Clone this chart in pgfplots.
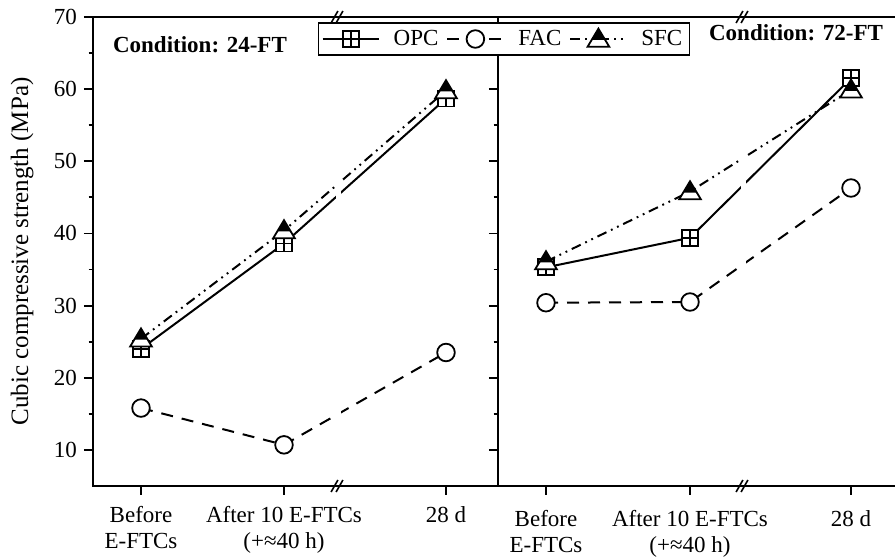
\documentclass[border=0pt]{standalone}
\usepackage{fontspec}
\setmainfont{Liberation Serif}
\usepackage{pgfplots}
\pgfplotsset{compat=1.18}

% square with a plus inside
\pgfdeclareplotmark{sqplus}{%
  \pgfpathrectangle{\pgfqpoint{-\pgfplotmarksize}{-\pgfplotmarksize}}{\pgfqpoint{2\pgfplotmarksize}{2\pgfplotmarksize}}%
  \pgfusepathqfillstroke
  \pgfpathmoveto{\pgfqpoint{-\pgfplotmarksize}{0pt}}\pgfpathlineto{\pgfqpoint{\pgfplotmarksize}{0pt}}%
  \pgfpathmoveto{\pgfqpoint{0pt}{-\pgfplotmarksize}}\pgfpathlineto{\pgfqpoint{0pt}{\pgfplotmarksize}}%
  \pgfusepathqstroke}
% triangle, black on top, white band at the base
\pgfdeclareplotmark{halftri}{%
  \pgfpathmoveto{\pgfqpoint{0pt}{1.15\pgfplotmarksize}}%
  \pgfpathlineto{\pgfqpoint{1.2\pgfplotmarksize}{-0.85\pgfplotmarksize}}%
  \pgfpathlineto{\pgfqpoint{-1.2\pgfplotmarksize}{-0.85\pgfplotmarksize}}%
  \pgfpathclose
  \pgfusepathqfillstroke
  \begin{pgfscope}
  \pgfsetfillcolor{black}%
  \pgfpathmoveto{\pgfqpoint{0pt}{1.15\pgfplotmarksize}}%
  \pgfpathlineto{\pgfqpoint{0.75\pgfplotmarksize}{-0.1\pgfplotmarksize}}%
  \pgfpathlineto{\pgfqpoint{-0.75\pgfplotmarksize}{-0.1\pgfplotmarksize}}%
  \pgfpathclose
  \pgfusepathqfill
  \end{pgfscope}}

\pgfplotsset{
  panel/.style={
    scale only axis, height=234.5pt,
    ymin=5, ymax=70, ytick={10,20,...,70}, minor y tick num=1,
    tick pos=left, tick align=outside,
    major tick length=4.5pt, minor tick length=2.2pt,
    axis line style={line width=0.9pt},
    every tick/.style={black, line width=0.9pt},
    clip=false, axis on top,
    /pgf/number format/assume math mode=true,
    tick label style={font=\fontsize{11.5}{13}\selectfont},
    xticklabel style={align=center, yshift=-2pt},
    xtick={48,191,353},
    xticklabels={Before\\E-FTCs, After 10 E-FTCs\\(+≈40 h), 28 d},
    legend image code/.code={\draw[mark repeat=2,mark phase=2,##1] plot coordinates {(0pt,0pt) (14pt,0pt) (28pt,0pt)};},
  },
  opc/.style={black, line width=1pt, solid, mark=sqplus, mark size=4pt, mark options={solid, fill=white, line width=0.9pt}},
  fac/.style={black, line width=1pt, dash pattern=on 6pt off 4.5pt, mark=*, mark size=4.4pt, mark options={solid, fill=white, draw=black, line width=0.9pt}},
  sfc/.style={black, line width=1pt, dash pattern=on 5pt off 2.5pt on 0.9pt off 2.5pt on 0.9pt off 2.5pt, mark=halftri, mark size=4.5pt, mark options={solid, fill=white, line width=0.9pt}},
}

\begin{document}
\begin{tikzpicture}
\useasboundingbox (-46.5pt,-37pt) rectangle (401pt,243pt);

% left panel: 24-FT
\begin{axis}[panel, at={(0pt,0pt)}, anchor=south west, width=202.5pt,
  xmin=0, xmax=405,
  ylabel={Cubic compressive strength (MPa)},
  every axis y label/.style={at={(axis description cs:-0.175,0.5)}, rotate=90, anchor=center,
    font=\fontsize{12.5}{14}\selectfont},
]
\addplot[fac] coordinates {(48,15.8) (191,10.7) (353,23.5)};
\addplot[opc] coordinates {(48,24.0) (191,38.6) (353,58.7)};
\addplot[sfc] coordinates {(48,25.4) (191,40.4) (353,59.8)};
\fill[white] (axis cs:242.5,6) rectangle (axis cs:247.5,64);
\node[font=\bfseries\fontsize{11.5}{13}\selectfont] at (axis cs:107,66.1) {Condition: 24-FT};
\draw[line width=0.8pt] (axis cs:241.5,5) ++(-1.7pt,-3pt) -- ++(3.4pt,6pt);
\draw[line width=0.8pt] (axis cs:246.5,5) ++(-1.7pt,-3pt) -- ++(3.4pt,6pt);
\draw[line width=0.8pt] (axis cs:241.5,70) ++(-1.7pt,-3pt) -- ++(3.4pt,6pt);
\draw[line width=0.8pt] (axis cs:246.5,70) ++(-1.7pt,-3pt) -- ++(3.4pt,6pt);
\end{axis}

% right panel: 72-FT
\begin{axis}[panel, at={(202.5pt,0pt)}, anchor=south west, width=201pt,
  xmin=0, xmax=402, xtick={48,192,353}, yticklabels={},
  xticklabel style={yshift=-2pt},
  legend columns=-1, legend cell align=left,
  legend style={at={(axis cs:6,66.95)}, anchor=center, draw=black, line width=0.8pt,
    fill=white, font=\fontsize{11.5}{13}\selectfont, inner sep=1.5pt,
    /tikz/every even column/.append style={column sep=2pt},
    /tikz/every odd column/.append style={column sep=5pt}},
]
\addplot[opc] coordinates {(48,35.3) (192,39.4) (353,61.5)};
\addlegendentry{OPC}
\addplot[fac] coordinates {(48,30.4) (192,30.5) (353,46.3)};
\addlegendentry{FAC}
\addplot[sfc] coordinates {(48,36.1) (192,45.8) (353,59.9)};
\addlegendentry{SFC}
\fill[white] (axis cs:242.5,6) rectangle (axis cs:247.5,64);
\node[font=\bfseries\fontsize{11.5}{13}\selectfont] at (axis cs:298,67.8) {Condition: 72-FT};
\draw[line width=0.8pt] (axis cs:241.5,5) ++(-1.7pt,-3pt) -- ++(3.4pt,6pt);
\draw[line width=0.8pt] (axis cs:246.5,5) ++(-1.7pt,-3pt) -- ++(3.4pt,6pt);
\draw[line width=0.8pt] (axis cs:241.5,70) ++(-1.7pt,-3pt) -- ++(3.4pt,6pt);
\draw[line width=0.8pt] (axis cs:246.5,70) ++(-1.7pt,-3pt) -- ++(3.4pt,6pt);
\end{axis}
\end{tikzpicture}
\end{document}
